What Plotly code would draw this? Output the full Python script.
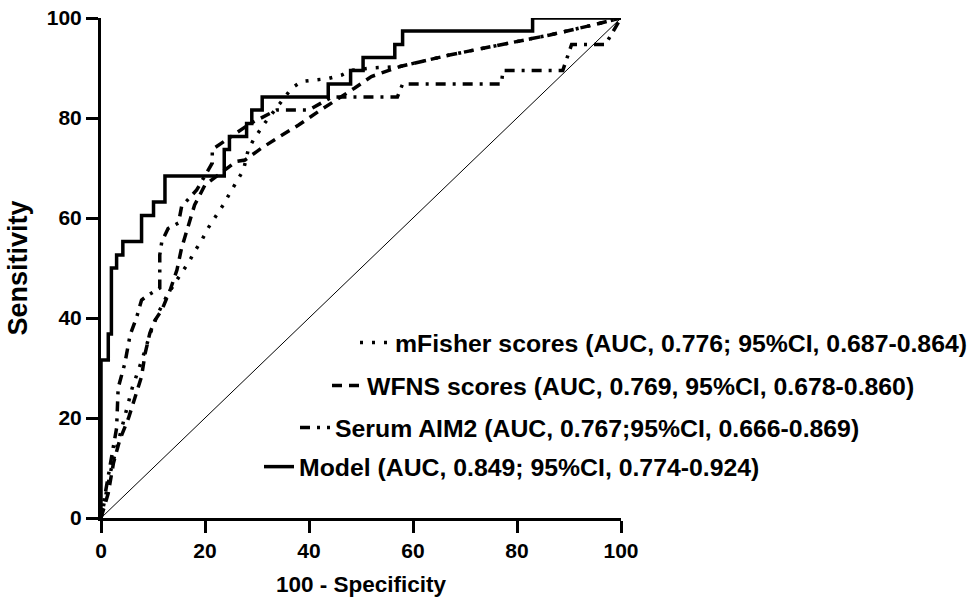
import plotly.graph_objects as go

# ---- data ----
model_x = [0, 0, 1.4, 2.0, 3.0, 4.2, 7.8, 10.1, 12.3, 23.7, 24.7, 28, 29, 31, 43.7, 48, 50.4, 56.5, 58, 83, 100]
model_y = [0, 31.6, 36.8, 50, 52.6, 55.3, 60.5, 63.2, 68.4, 73.7, 76.3, 78.9, 81.6, 84.2, 86.8, 89.5, 92.1, 94.7, 97.4, 100, 100]

aim2_x = [0, 1, 2, 3, 3.3, 4.6, 5.6, 6.9, 7.8, 9.1, 11.3, 11.3, 11.7, 12.9, 14.9, 15.5, 18.4, 20, 21.4, 21.4,
          25, 28.7, 33.8, 40, 44.4, 57, 58, 77, 77.3, 88.8, 90.5, 97, 100]
aim2_y = [0, 6, 12, 18, 26, 31, 36.6, 40.3, 43.6, 44.6, 46, 52.6, 55.3, 57.9, 59, 62.3, 65.6, 68.4, 71, 73.7,
          76.3, 78.9, 81.6, 81.6, 84.2, 84.2, 86.8, 86.8, 89.5, 89.5, 94.7, 94.7, 100]

wfns_x = [0, 1.4, 2.4, 3.6, 5.3, 6.5, 7.8, 8.5, 9.4, 10.4, 11.7, 13.3, 14.6, 15.5, 16.8, 18, 20, 26, 27.7, 30.9,
          34.4, 38, 41.8, 45.3, 48.8, 52, 57.5, 67, 73.5, 80, 86.3, 94.6, 100]
wfns_y = [0, 5, 11, 15.6, 20, 24, 28.3, 33, 37, 39.6, 41.6, 45.6, 49.6, 54, 58.3, 62.6, 66.6, 71.3, 71.6, 74,
          76.3, 78.6, 81.3, 83.6, 86, 88.3, 90.3, 92.6, 94, 95.3, 96.6, 98.6, 100]

mfisher_x = [0, 1, 2, 3, 4.5, 6, 8, 9.5, 11, 12.6, 15.2, 16.8, 18, 19.4, 20.6, 23.5, 24.8, 27.4, 28.3, 29.3, 31.5,
             33.8, 36.7, 38.6, 43.7, 46.3, 48, 52, 57.5, 67, 73.5, 80, 86.3, 94.6, 100]
mfisher_y = [0, 5, 10, 14, 20, 26, 32, 37, 41, 44.3, 48.6, 51, 53.3, 55.6, 58, 62.6, 65, 69.6, 73.6, 75.6, 79,
             82, 86, 87.3, 87.9, 88.6, 89.5, 90, 90.3, 92.6, 94, 95.3, 96.6, 98.6, 100]

ref_x = [0, 100]
ref_y = [0, 100]

labels = [
    "mFisher scores (AUC, 0.776; 95%CI, 0.687-0.864)",
    "WFNS scores (AUC, 0.769, 95%CI, 0.678-0.860)",
    "Serum AIM2 (AUC, 0.767;95%CI, 0.666-0.869)",
    "Model (AUC, 0.849; 95%CI, 0.774-0.924)",
]
tick_vals = [0, 20, 40, 60, 80, 100]

FONT = "Liberation Sans, Arial, sans-serif"

fig = go.Figure()
fig.add_trace(go.Scatter(x=ref_x, y=ref_y, mode="lines", line=dict(color="black", width=1),
                         showlegend=False, hoverinfo="skip"))
fig.add_trace(go.Scatter(x=mfisher_x, y=mfisher_y, mode="lines", name=labels[0],
                         line=dict(color="black", width=3.5, dash="3px,9px"), legend="legend"))
fig.add_trace(go.Scatter(x=wfns_x, y=wfns_y, mode="lines", name=labels[1],
                         line=dict(color="black", width=3.5, dash="10px,7px"), legend="legend2"))
fig.add_trace(go.Scatter(x=aim2_x, y=aim2_y, mode="lines", name=labels[2],
                         line=dict(color="black", width=3.5, dash="10px,7px,3px,7px"), legend="legend3"))
fig.add_trace(go.Scatter(x=model_x, y=model_y, mode="lines", name=labels[3], line_shape="hv",
                         line=dict(color="black", width=3.5), legend="legend4"))

W, H = 975, 604
PL, PT, PW, PH = 101, 18, 520, 500          # target plot area on screen
L, T = PL, PT
R, B = W - L - PW, H - T - PH


def px2paper(px, py):
    return (px - PL) / PW, (PT + PH - py) / PH


def leg(px, py):
    x, y = px2paper(px, py)
    return dict(x=x, y=y, xanchor="left", yanchor="middle", bgcolor="rgba(0,0,0,0)",
                font=dict(family=FONT, size=24.8, color="black", weight="bold"),
                itemwidth=30, tracegroupgap=0, borderwidth=0)


fig.update_layout(
    width=W, height=H,
    margin=dict(l=L, r=R, t=T, b=B, autoexpand=False),
    plot_bgcolor="white", paper_bgcolor="white",
    font=dict(family=FONT, color="black"),
    legend=leg(355, 343),
    legend2=leg(327, 386),
    legend3=leg(295, 428),
    legend4=leg(259, 467),
)

axis_common = dict(
    range=[0, 100], tickvals=tick_vals, ticks="outside", ticklen=12, tickwidth=3,
    tickcolor="black", showline=True, linewidth=3, linecolor="black",
    showgrid=False, zeroline=False, ticklabeloverflow="allow",
    tickfont=dict(family=FONT, size=21, color="black", weight="bold"),
)
fig.update_xaxes(**axis_common, automargin=False,
                 title=dict(text="100 - Specificity", standoff=16,
                            font=dict(family=FONT, size=22.5, color="black", weight="bold")))
fig.update_yaxes(**axis_common, automargin=True,
                 title=dict(text="Sensitivity", standoff=12,
                            font=dict(family=FONT, size=27, color="black", weight="bold")))

fig.write_html("out.html", config={"displayModeBar": False},
               post_script="document.body.style.margin='0';")
